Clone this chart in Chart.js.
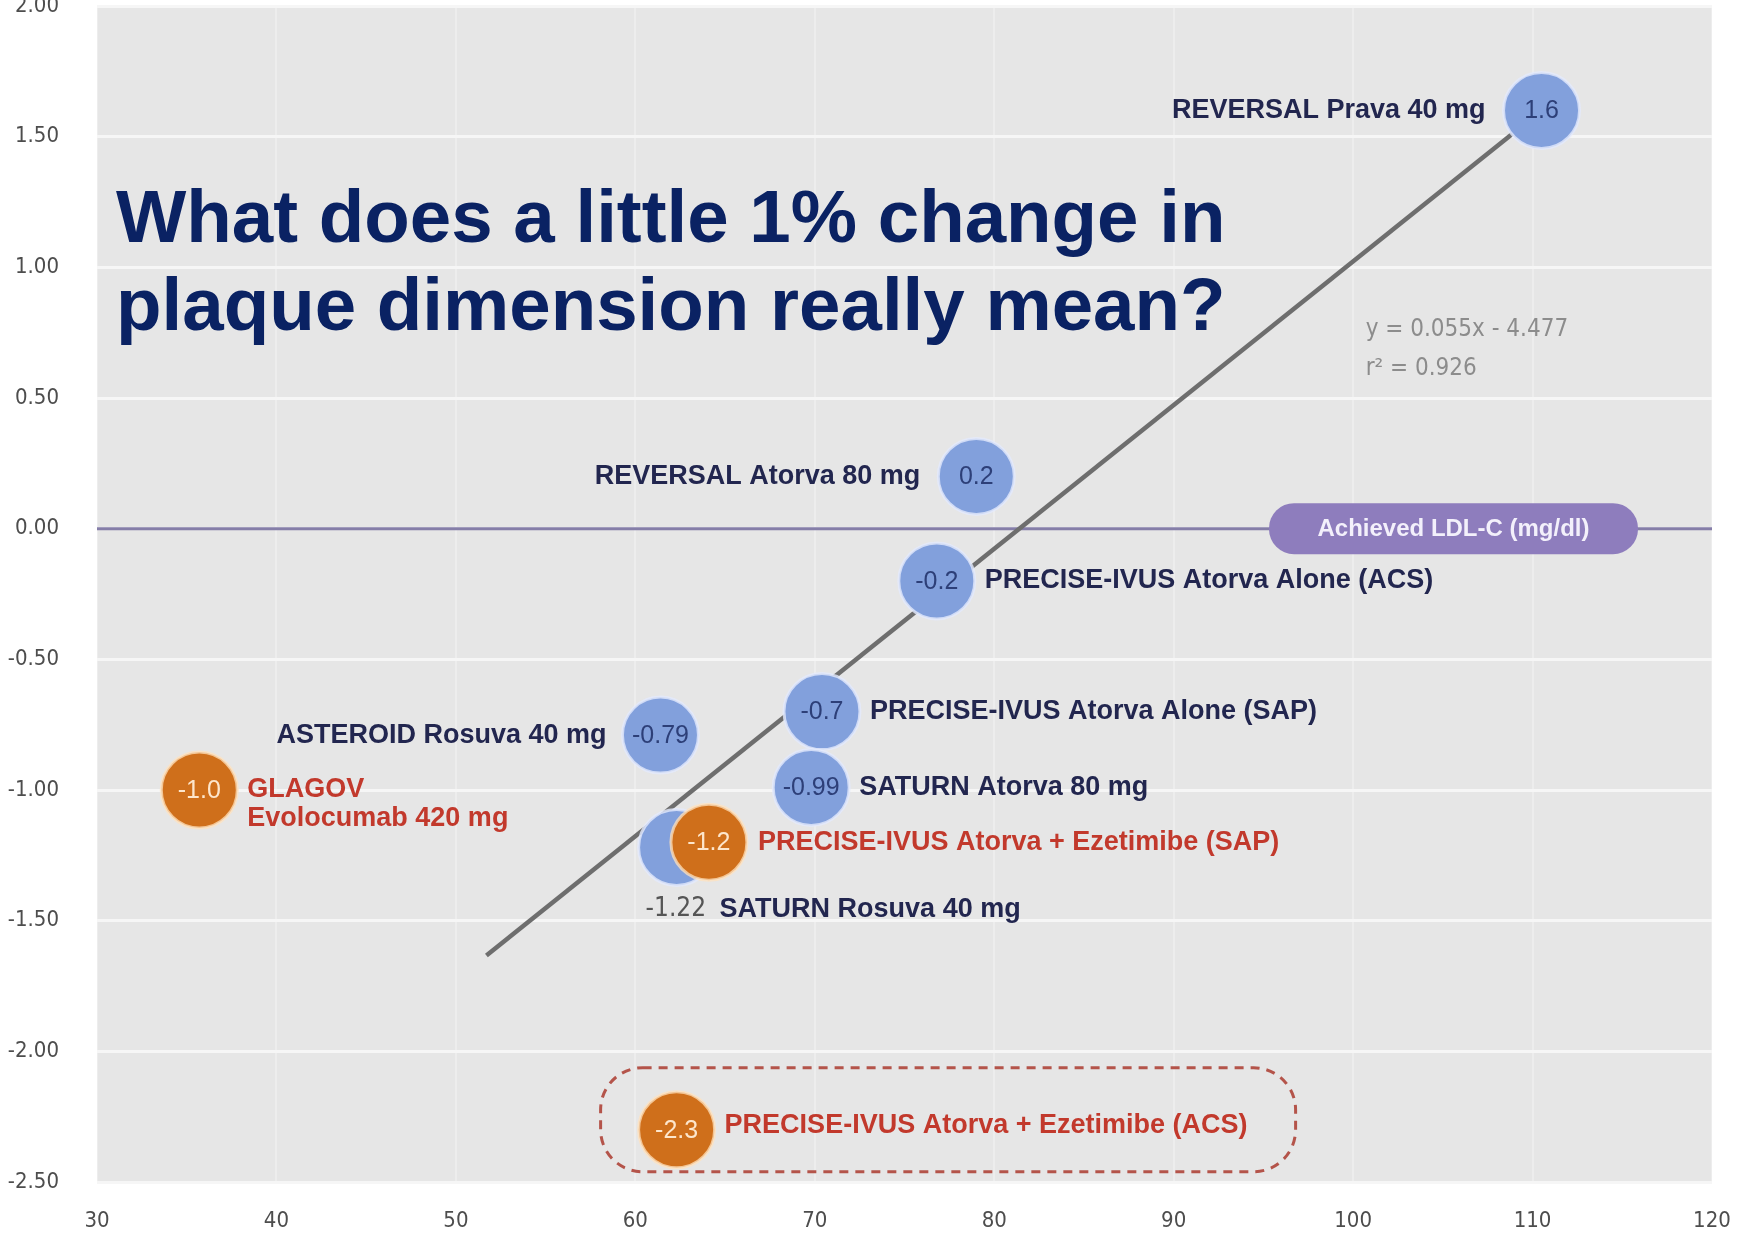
<!DOCTYPE html>
<html>
<head>
<meta charset="utf-8">
<script src="https://cdn.jsdelivr.net/npm/chart.js@4.4.1/dist/chart.umd.min.js"></script>
<style>
  html, body { margin: 0; padding: 0; background: #ffffff; }
  #wrap { width: 1743px; height: 1239px; }
</style>
</head>
<body>
<div id="wrap"><canvas id="c" width="1743" height="1239"></canvas></div>
<script>
// Achieved LDL-C (mg/dl) against change in percent atheroma volume, by trial arm.
const statinTrials = [
  'REVERSAL Prava 40 mg',
  'REVERSAL Atorva 80 mg',
  'PRECISE-IVUS Atorva Alone (ACS)',
  'PRECISE-IVUS Atorva Alone (SAP)',
  'ASTEROID Rosuva 40 mg',
  'SATURN Atorva 80 mg',
  'SATURN Rosuva 40 mg'
];
const statinLDL = [110.5, 79, 76.8, 70.4, 61.4, 69.8, 62.3];
const statinChange = [1.6, 0.2, -0.2, -0.7, -0.79, -0.99, -1.22];

const comboTrials = [
  'PRECISE-IVUS Atorva + Ezetimibe (SAP)',
  'GLAGOV|Evolocumab 420 mg',
  'PRECISE-IVUS Atorva + Ezetimibe (ACS)'
];
const comboLDL = [64.1, 35.7, 62.3];
const comboChange = [-1.2, -1.0, -2.3];

// Linear fit across the trial arms
const trendSlope = 0.055;
const trendIntercept = -4.477;
const trendR2 = 0.926;
const trendLDL = [51.7, 110.5];

const xTickValues = [30, 40, 50, 60, 70, 80, 90, 100, 110, 120];
const yTickValues = [2.0, 1.5, 1.0, 0.5, 0.0, -0.5, -1.0, -1.5, -2.0, -2.5];

const titleLines = ['What does a little 1% change in', 'plaque dimension really mean?'];
const axisBadge = 'Achieved LDL-C (mg/dl)';

// Where each arm's caption sits relative to its bubble
const statinLayout = [
  { side: 'left', dx: -56, dy: 0 },
  { side: 'left', dx: -56, dy: 0 },
  { side: 'right', dx: 48, dy: 0 },
  { side: 'right', dx: 48, dy: 0 },
  { side: 'left', dx: -54, dy: 0 },
  { side: 'right', dx: 48, dy: 0 },
  { side: 'below', dx: -31, dy: 62, gap: 74 }
];
const comboLayout = [
  { side: 'right', dx: 49, dy: 0 },
  { side: 'right', dx: 48, dy: 0, lineGap: 29 },
  { side: 'right', dx: 48, dy: -4, boxed: true }
];

const NAVY = '#22264f';
const RED = '#c2392c';
const BLUE = 'rgb(130,160,220)';
const ORANGE = 'rgb(207,111,27)';
const NARROW = "'Liberation Sans Narrow', 'DejaVu Sans Condensed', 'Liberation Sans', Arial, sans-serif";
const SANS = "'Liberation Sans', Arial, Helvetica, sans-serif";

function fmtValue(v) {
  return Number.isInteger(Math.round(v * 100) / 10) ? v.toFixed(1) : v.toFixed(2);
}

function pairs(xs, ys) {
  return xs.map((x, i) => ({ x: x, y: ys[i] }));
}

const overlay = {
  id: 'overlay',
  beforeDraw(chart) {
    const { ctx, chartArea: a } = chart;
    ctx.save();
    ctx.fillStyle = '#e6e6e6';
    ctx.fillRect(a.left, a.top, a.right - a.left, a.bottom - a.top);
    ctx.restore();
  },
  beforeDatasetsDraw(chart) {
    const { ctx, chartArea: a, scales } = chart;
    const y0 = scales.y.getPixelForValue(0);
    ctx.save();
    ctx.strokeStyle = '#857ea8';
    ctx.lineWidth = 3;
    ctx.beginPath();
    ctx.moveTo(a.left, y0);
    ctx.lineTo(a.right, y0);
    ctx.stroke();
    ctx.restore();
  },
  afterDatasetsDraw(chart) {
    const { ctx, chartArea: a, scales } = chart;
    const xs = scales.x, ys = scales.y;
    ctx.save();

    // values inside bubbles
    ctx.textAlign = 'center';
    ctx.textBaseline = 'middle';
    ctx.font = '25px ' + SANS;
    statinChange.forEach((v, i) => {
      if (statinLayout[i].side === 'below') return;
      ctx.fillStyle = '#2d3f78';
      ctx.fillText(fmtValue(v), xs.getPixelForValue(statinLDL[i]), ys.getPixelForValue(v) + 1);
    });
    comboChange.forEach((v, i) => {
      ctx.fillStyle = '#fde6cc';
      ctx.fillText(fmtValue(v), xs.getPixelForValue(comboLDL[i]), ys.getPixelForValue(v) + 1);
    });

    // captions
    const CAP = 'bold 27px ' + SANS;
    ctx.font = CAP;
    const caption = (name, lay, px, py, color, value) => {
      ctx.fillStyle = color;
      if (lay.side === 'below') {
        ctx.textAlign = 'left';
        ctx.font = '26px ' + NARROW;
        ctx.fillStyle = '#555555';
        ctx.fillText(fmtValue(value), px + lay.dx, py + lay.dy);
        ctx.font = CAP;
        ctx.fillStyle = color;
        ctx.fillText(name, px + lay.dx + lay.gap, py + lay.dy);
        return;
      }
      ctx.textAlign = lay.side === 'left' ? 'right' : 'left';
      const parts = name.split('|');
      parts.forEach((p, k) => {
        ctx.fillText(p, px + lay.dx, py + lay.dy + k * (lay.lineGap || 0));
      });
    };
    ctx.textBaseline = 'middle';
    statinTrials.forEach((n, i) => {
      caption(n, statinLayout[i], xs.getPixelForValue(statinLDL[i]), ys.getPixelForValue(statinChange[i]), NAVY, statinChange[i]);
    });
    comboTrials.forEach((n, i) => {
      caption(n, comboLayout[i], xs.getPixelForValue(comboLDL[i]), ys.getPixelForValue(comboChange[i]), RED, comboChange[i]);
    });

    // dashed frame round the highlighted arm
    comboLayout.forEach((lay, i) => {
      if (!lay.boxed) return;
      const px = xs.getPixelForValue(comboLDL[i]);
      const py = ys.getPixelForValue(comboChange[i]);
      ctx.strokeStyle = '#b4544a';
      ctx.lineWidth = 3;
      ctx.setLineDash([9, 7]);
      ctx.beginPath();
      ctx.roundRect(px - 76, py - 62, 695, 104, 42);
      ctx.stroke();
      ctx.setLineDash([]);
    });

    // axis badge on the zero line
    const y0 = ys.getPixelForValue(0);
    const bw = 369, bh = 51, bx = a.right - 74 - bw;
    ctx.fillStyle = '#8e7dbd';
    ctx.beginPath();
    ctx.roundRect(bx, y0 - bh / 2, bw, bh, 25);
    ctx.fill();
    ctx.fillStyle = '#f3f0fb';
    ctx.font = 'bold 24px ' + SANS;
    ctx.textAlign = 'center';
    ctx.fillText(axisBadge, bx + bw / 2, y0 + 1);

    // fit equation
    ctx.fillStyle = '#8c8c8c';
    ctx.font = '24px ' + NARROW;
    ctx.textAlign = 'left';
    const ex = xs.getPixelForValue(100.7);
    ctx.fillText('y = ' + trendSlope.toFixed(3) + 'x - ' + Math.abs(trendIntercept).toFixed(3), ex, ys.getPixelForValue(0.76));
    ctx.fillText('r\u00b2 = ' + trendR2.toFixed(3), ex, ys.getPixelForValue(0.61));

    // headline
    ctx.fillStyle = '#0a2263';
    ctx.font = 'bold 74.5px ' + SANS;
    ctx.textBaseline = 'alphabetic';
    ctx.textAlign = 'left';
    ctx.fillText(titleLines[0], 116, 242);
    ctx.fillText(titleLines[1], 116, 330);

    ctx.restore();
  }
};

new Chart(document.getElementById('c'), {
  type: 'scatter',
  data: {
    datasets: [
      {
        label: 'Combination therapy',
        data: pairs(comboLDL, comboChange),
        backgroundColor: ORANGE,
        borderColor: 'rgba(255,226,190,0.75)',
        borderWidth: 3,
        pointRadius: 38,
        pointHoverRadius: 38,
        order: 0
      },
      {
        label: 'Statin monotherapy',
        data: pairs(statinLDL, statinChange),
        backgroundColor: BLUE,
        borderColor: 'rgba(228,234,252,0.8)',
        borderWidth: 3,
        pointRadius: 38,
        pointHoverRadius: 38,
        order: 1
      },
      {
        type: 'line',
        label: 'Linear fit',
        data: trendLDL.map(x => ({ x: x, y: trendSlope * x + trendIntercept })),
        borderColor: '#6e6e6e',
        borderWidth: 4.5,
        pointRadius: 0,
        fill: false,
        order: 2
      }
    ]
  },
  options: {
    responsive: false,
    animation: false,
    events: [],
    layout: { autoPadding: false, padding: { top: 6, right: 31, left: 0, bottom: 0 } },
    plugins: { legend: { display: false }, tooltip: { enabled: false }, title: { display: false } },
    scales: {
      x: {
        type: 'linear',
        min: 30, max: 120,
        afterFit(s) { s.height = 57; s.paddingLeft = 0; s.paddingRight = 0; },
        afterBuildTicks(s) { s.ticks = xTickValues.map(v => ({ value: v })); },
        border: { display: false },
        grid: { color: 'rgba(255,255,255,0.28)', lineWidth: 2, drawTicks: false },
        ticks: {
          padding: 26,
          color: '#4d4d4d',
          font: { family: NARROW, size: 22 },
          callback: v => String(v)
        }
      },
      y: {
        type: 'linear',
        min: -2.5, max: 2,
        afterFit(s) { s.width = 97; s.paddingTop = 0; s.paddingBottom = 0; },
        afterBuildTicks(s) { s.ticks = yTickValues.map(v => ({ value: v })); },
        border: { display: false },
        grid: { color: '#f6f6f6', lineWidth: 3, drawTicks: false },
        ticks: {
          padding: 38,
          color: '#4d4d4d',
          font: { family: NARROW, size: 22 },
          callback: v => Number(v).toFixed(2)
        }
      }
    }
  },
  plugins: [overlay]
});
</script>
</body>
</html>
